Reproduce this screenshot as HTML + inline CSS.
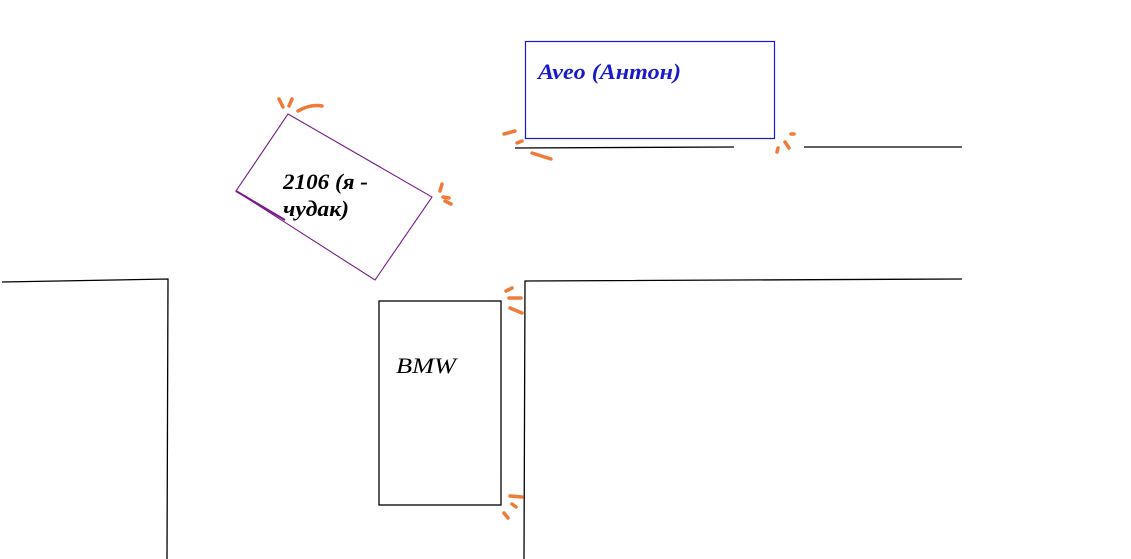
<!DOCTYPE html>
<html><head><meta charset="utf-8"><style>
html,body{margin:0;padding:0;background:#fff;width:1131px;height:559px;overflow:hidden}
svg{display:block}
text{font-family:"Liberation Serif",serif;font-weight:bold;font-style:italic;font-size:22px}
</style></head><body>
<svg width="1131" height="559" viewBox="0 0 1131 559">
<g stroke="#000" stroke-width="1.3" fill="none">
<line x1="515" y1="148" x2="734" y2="147"/>
<line x1="804" y1="147" x2="962" y2="147"/>
<polyline points="2,282 168,279 167,559"/>
<polyline points="524,559 525,281 962,279"/>
<rect x="379" y="301" width="122" height="204"/>
</g>
<rect x="525.5" y="41.5" width="249" height="97" fill="none" stroke="#1a1acc" stroke-width="1.2"/>
<polygon points="288,114 432,197 375,280 236,191" fill="none" stroke="#7a1a8a" stroke-width="1.1"/>
<line x1="236" y1="191" x2="285" y2="220" stroke="#7a1a8a" stroke-width="2"/>
<text x="538" y="79" fill="#1a1acc" textLength="143" lengthAdjust="spacingAndGlyphs">Aveo (Антон)</text>
<text x="283" y="189" fill="#000" textLength="85" lengthAdjust="spacingAndGlyphs">2106 (я -</text>
<text x="283" y="216" fill="#000" textLength="66" lengthAdjust="spacingAndGlyphs">чудак)</text>
<text x="396" y="373" fill="#000" style="font-weight:normal" textLength="60" lengthAdjust="spacingAndGlyphs">BMW</text>
<g stroke="#f07a3a" stroke-width="3.5" stroke-linecap="round" fill="none">
<line x1="279" y1="99" x2="283" y2="107"/><line x1="292" y1="99" x2="289" y2="106"/>
<path d="M298 111 Q310 104 322 106"/>
<line x1="442" y1="184" x2="440" y2="191"/><line x1="443" y1="197" x2="449" y2="198"/><line x1="445" y1="201" x2="451" y2="204"/>
<line x1="504" y1="134" x2="515" y2="131"/><line x1="517" y1="143" x2="522" y2="141"/>
<line x1="532" y1="153" x2="551" y2="159"/>
<line x1="778" y1="148" x2="777" y2="152"/><line x1="785" y1="142" x2="789" y2="148"/><line x1="791" y1="134" x2="794" y2="134"/>
<line x1="506" y1="291" x2="512" y2="288"/><line x1="509" y1="298" x2="521" y2="298"/>
<line x1="510" y1="308" x2="522" y2="313"/>
<line x1="510" y1="496" x2="522" y2="497"/><line x1="512" y1="504" x2="516" y2="507"/><line x1="504" y1="513" x2="508" y2="518"/>
</g>
</svg>
</body></html>
